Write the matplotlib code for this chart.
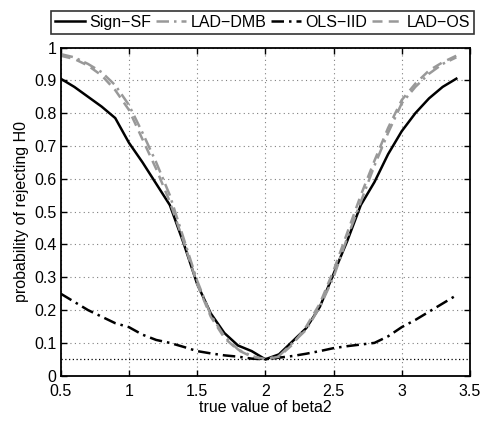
import matplotlib
matplotlib.use("Agg")
import matplotlib.pyplot as plt
import numpy as np

plt.rcParams['font.family'] = ['Liberation Sans', 'DejaVu Sans']

beta2 = [0.5, 0.6, 0.7, 0.8, 0.9, 1.0, 1.1, 1.2, 1.3, 1.4, 1.5, 1.6, 1.7, 1.8, 1.9,
         2.0, 2.1, 2.2, 2.3, 2.4, 2.5, 2.6, 2.7, 2.8, 2.9, 3.0, 3.1, 3.2, 3.3, 3.4]
sign_sf = [0.905, 0.88, 0.85, 0.82, 0.785, 0.71, 0.65, 0.585, 0.52, 0.405, 0.28, 0.19, 0.13, 0.092, 0.075,
           0.05, 0.065, 0.105, 0.145, 0.21, 0.31, 0.41, 0.52, 0.59, 0.675, 0.745, 0.80, 0.845, 0.88, 0.905]
lad_dmb = [0.98, 0.97, 0.95, 0.925, 0.885, 0.825, 0.74, 0.65, 0.55, 0.42, 0.29, 0.185, 0.12, 0.08, 0.06,
           0.05, 0.06, 0.10, 0.14, 0.21, 0.30, 0.42, 0.53, 0.64, 0.74, 0.83, 0.88, 0.92, 0.95, 0.97]
ols_iid = [0.25, 0.225, 0.20, 0.18, 0.16, 0.148, 0.125, 0.109, 0.10, 0.088, 0.075, 0.068, 0.062, 0.058, 0.052,
           0.05, 0.055, 0.06, 0.067, 0.075, 0.084, 0.09, 0.095, 0.10, 0.12, 0.148, 0.17, 0.195, 0.22, 0.245]
lad_os = [0.975, 0.965, 0.945, 0.915, 0.87, 0.81, 0.72, 0.63, 0.53, 0.41, 0.28, 0.18, 0.115, 0.078, 0.058,
          0.05, 0.058, 0.095, 0.15, 0.22, 0.32, 0.435, 0.55, 0.655, 0.755, 0.84, 0.89, 0.93, 0.955, 0.975]
nominal = 0.05

fig = plt.figure(figsize=(4.87, 4.23), dpi=100)
ax = fig.add_axes([0.1246, 0.1118, 0.8404, 0.7759])

grey = (0.6, 0.6, 0.6)
l1, = ax.plot(beta2, sign_sf, color='black', lw=1.8, ls='-', label='Sign\u2212SF')
l2, = ax.plot(beta2, lad_dmb, color=grey, lw=1.8, ls=(0, (5, 2, 1, 2)), label='LAD\u2212DMB')
l3, = ax.plot(beta2, ols_iid, color='black', lw=1.8, ls=(0, (5, 2, 1, 2)), label='OLS\u2212IID')
l4, = ax.plot(beta2, lad_os, color=grey, lw=1.8, ls=(0, (4, 2.5)), label='LAD\u2212OS')
ax.axhline(nominal, color='black', lw=0.9, ls=(0, (1, 2)))

ax.set_xlim(0.5, 3.5)
ax.set_ylim(0, 1)
ax.set_xticks([0.5, 1, 1.5, 2, 2.5, 3, 3.5])
ax.set_xticklabels(['0.5', '1', '1.5', '2', '2.5', '3', '3.5'])
ax.set_yticks(np.round(np.arange(0, 1.01, 0.1), 1))
ax.set_yticklabels(['0', '0.1', '0.2', '0.3', '0.4', '0.5', '0.6', '0.7', '0.8', '0.9', '1'])
ax.grid(True, color=(0.5, 0.5, 0.5), ls=(0, (1, 3)), lw=0.8)
ax.tick_params(direction='in', labelsize=11.5, length=4, width=1, top=True, right=True)
ax.tick_params(axis='x', pad=6)
ax.tick_params(axis='y', pad=3)
for s in ax.spines.values():
    s.set_linewidth(1.3)
ax.set_xlabel('true value of beta2', fontsize=11.5, labelpad=1)
ax.set_ylabel('probability of rejecting H0', fontsize=11.5, labelpad=4)

leg = fig.legend(handles=[l1, l2, l3, l4], ncol=4, loc='lower left',
                 bbox_to_anchor=(51 / 487, 1 - 33.5 / 423, 423 / 487, 26 / 423), mode='expand',
                 fontsize=11.5, frameon=True, fancybox=False, edgecolor='black', handlelength=1.9,
                 handletextpad=0.25, columnspacing=0.3, borderpad=0.25, borderaxespad=0)
leg.get_frame().set_linewidth(1.2)

fig.savefig('out.png', dpi=100)
